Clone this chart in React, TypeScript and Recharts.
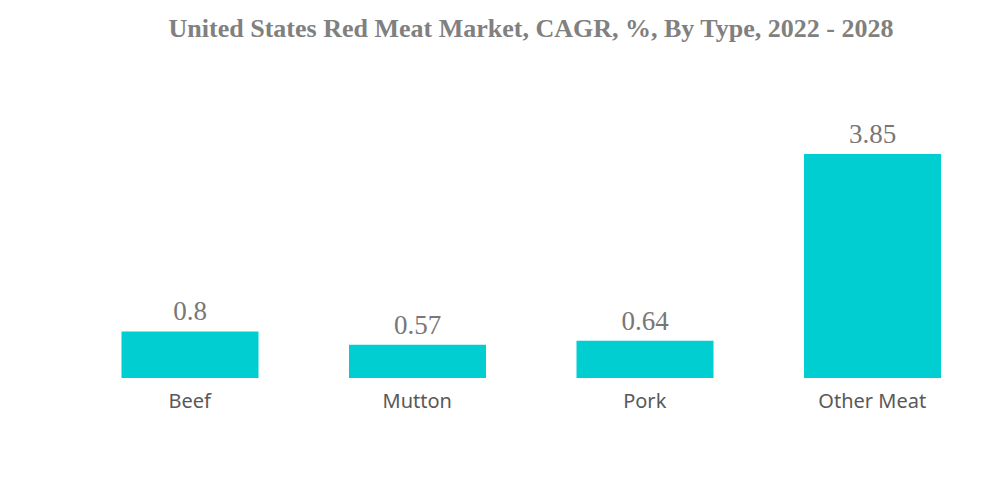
import { BarChart, Bar, XAxis, YAxis, LabelList } from "recharts";

const categories = ["Beef", "Mutton", "Pork", "Other Meat"];
const cagrValues = [0.8, 0.57, 0.64, 3.85];

const data = categories.map((name, i) => ({ name, value: cagrValues[i] }));

export default function App() {
  return (
    <div style={{ position: "absolute", left: 0, top: 0, width: 1000, height: 483, background: "#fff" }}>
      <div
        style={{
          position: "absolute",
          top: 14,
          left: 0,
          width: 1062,
          textAlign: "center",
          fontFamily: "'Liberation Serif', 'Times New Roman', serif",
          fontWeight: "bold",
          fontSize: 26,
          color: "#808080",
        }}
      >
        United States Red Meat Market, CAGR, %, By Type, 2022 - 2028
      </div>
      <BarChart
        width={1000}
        height={483}
        data={data}
        margin={{ top: 154, right: 14, left: 76, bottom: 75 }}
        barCategoryGap="20%"
      >
        <XAxis
          dataKey="name"
          axisLine={false}
          tickLine={false}
          height={30}
          interval={0}
          tick={{ fontSize: 20, fill: "#595959", fontFamily: "'Noto Sans', sans-serif" }}
          dy={8}
        />
        <YAxis hide domain={[0, "dataMax"]} />
        <Bar dataKey="value" fill="#00CED1" isAnimationActive={false}>
          <LabelList
            dataKey="value"
            position="top"
            offset={11}
            style={{ fontSize: 27, fill: "#777777", fontFamily: "'Liberation Serif', serif" }}
          />
        </Bar>
      </BarChart>
    </div>
  );
}
